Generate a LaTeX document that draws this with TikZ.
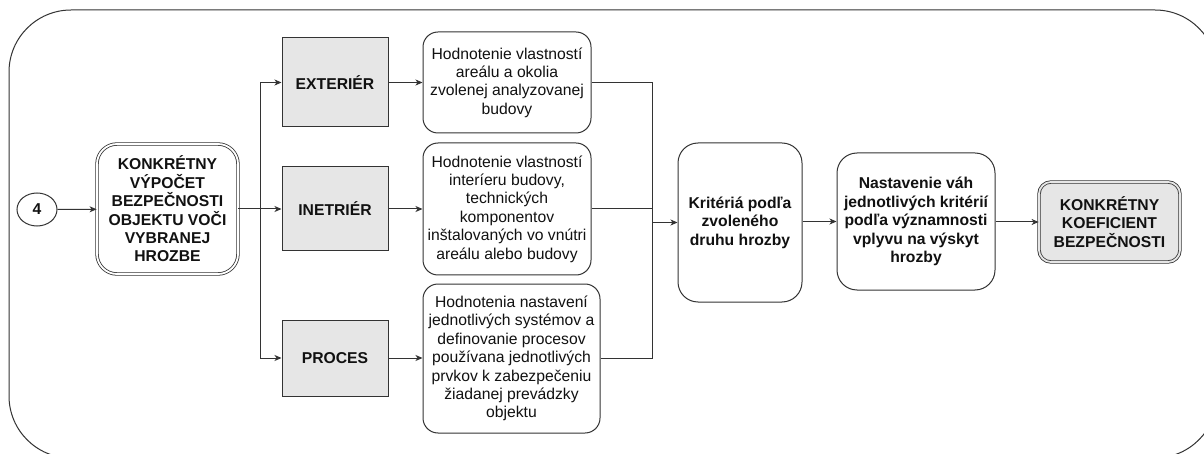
\documentclass[tikz,border=0pt]{standalone}
\usepackage{fontspec}
\setmainfont{Liberation Sans}
\usetikzlibrary{arrows.meta,shapes.geometric}
\definecolor{ln}{HTML}{333333}
\definecolor{grayfill}{HTML}{E6E6E6}
\definecolor{txt}{HTML}{111111}
\begin{document}
\begin{tikzpicture}[x=1pt,y=-1pt,
  every node/.style={font=\fontsize{15.7}{18.4}\selectfont, text=txt, align=center, inner sep=0pt},
  base/.style={draw=ln, line width=1pt},
  graybox/.style={base, fill=grayfill, minimum width=106, minimum height=#1},
  softbox/.style={base, fill=white, rounded corners=15},
  doublebox/.style={draw=ln, line width=0.8pt, double=#1, double distance=1.8pt, fill=#1},
  flow/.style={draw=ln, line width=1pt, -{Stealth[length=7pt,width=6pt,inset=2pt]}},
  wire/.style={draw=ln, line width=1pt}
]
\useasboundingbox (0,0) rectangle (1204,454);
\fill[white] (0,0) rectangle (1204,454);
\clip (0,0) rectangle (1204,454);

% surrounding frame
\draw[base, rounded corners=62] (9,10) rectangle (1217,458);

% start marker
\node[base, ellipse, minimum width=40, minimum height=33, font=\fontsize{15.7}{18.4}\selectfont\bfseries] (c4) at (37,209.5) {4};

% entry step
\node[doublebox=white, rounded corners=20, minimum width=141, minimum height=130, font=\fontsize{15.7}{18.4}\selectfont\bfseries] (calc) at (167.5,209)
  {KONKRÉTNY\\VÝPOČET\\BEZPEČNOSTI\\OBJEKTU VOČI\\VYBRANEJ\\HROZBE};

% three areas
\node[graybox=89, font=\fontsize{15.7}{18.4}\selectfont\bfseries] (ext) at (335,82.5) {EXTERIÉR};
\node[graybox=84, font=\fontsize{15.7}{18.4}\selectfont\bfseries] (int) at (335,209) {INETRIÉR};
\node[graybox=76, font=\fontsize{15.7}{18.4}\selectfont\bfseries] (proc) at (335,358) {PROCES};

% evaluations
\node[softbox, minimum width=168, minimum height=101] (h1) at (507,82.5)
  {Hodnotenie vlastností\\areálu a okolia\\zvolenej analyzovanej\\budovy};
\node[softbox, minimum width=168, minimum height=132] (h2) at (507,209)
  {Hodnotenie vlastností\\interíeru budovy,\\technických\\komponentov\\inštalovaných vo vnútri\\areálu alebo budovy};
\node[softbox, minimum width=177, minimum height=149] (h3) at (511.5,358.5)
  {Hodnotenia nastavení\\jednotlivých systémov a\\definovanie procesov\\používana jednotlivých\\prvkov k zabezpečeniu\\žiadanej prevádzky\\objektu};

% criteria and weighting
\node[softbox, rounded corners=20, minimum width=124, minimum height=159, font=\fontsize{15.7}{18.4}\selectfont\bfseries] (krit) at (740,222.5)
  {Kritériá podľa\\zvoleného\\druhu hrozby};
\node[softbox, rounded corners=20, minimum width=158, minimum height=137, font=\fontsize{15.7}{18.4}\selectfont\bfseries] (nast) at (916,221.5)
  {Nastavenie váh\\jednotlivých kritérií\\podľa významnosti\\vplyvu na výskyt\\hrozby};

% result
\node[doublebox=grayfill, rounded corners=12, minimum width=141, minimum height=80, font=\fontsize{15.7}{18.4}\selectfont\bfseries] (koef) at (1109.5,222)
  {KONKRÉTNY\\KOEFICIENT\\BEZPEČNOSTI};

% branching point and merge point
\coordinate (split) at (260,209);
\coordinate (merge) at (652,222.5);

\draw[flow] (c4) -- (calc);
\draw[wire] (calc.east) -- (split);
\draw[flow] (split) |- (ext.west);
\draw[flow] (split) -- (int.west);
\draw[flow] (split) |- (proc.west);

\draw[flow] (ext) -- (h1);
\draw[flow] (int) -- (h2);
\draw[flow] (proc.east) -- (proc.east -| h3.west);

\draw[wire] (h1.east) -| (merge);
\draw[wire] (h3.east) -| (merge);
\draw[wire] (h2.east) -- (h2.east -| merge);
\draw[flow] (merge) -- (merge -| krit.west);

\draw[flow] (krit.east |- nast.west) -- (nast.west);
\draw[flow] (nast.east |- koef.west) -- (koef.west);
\end{tikzpicture}
\end{document}
